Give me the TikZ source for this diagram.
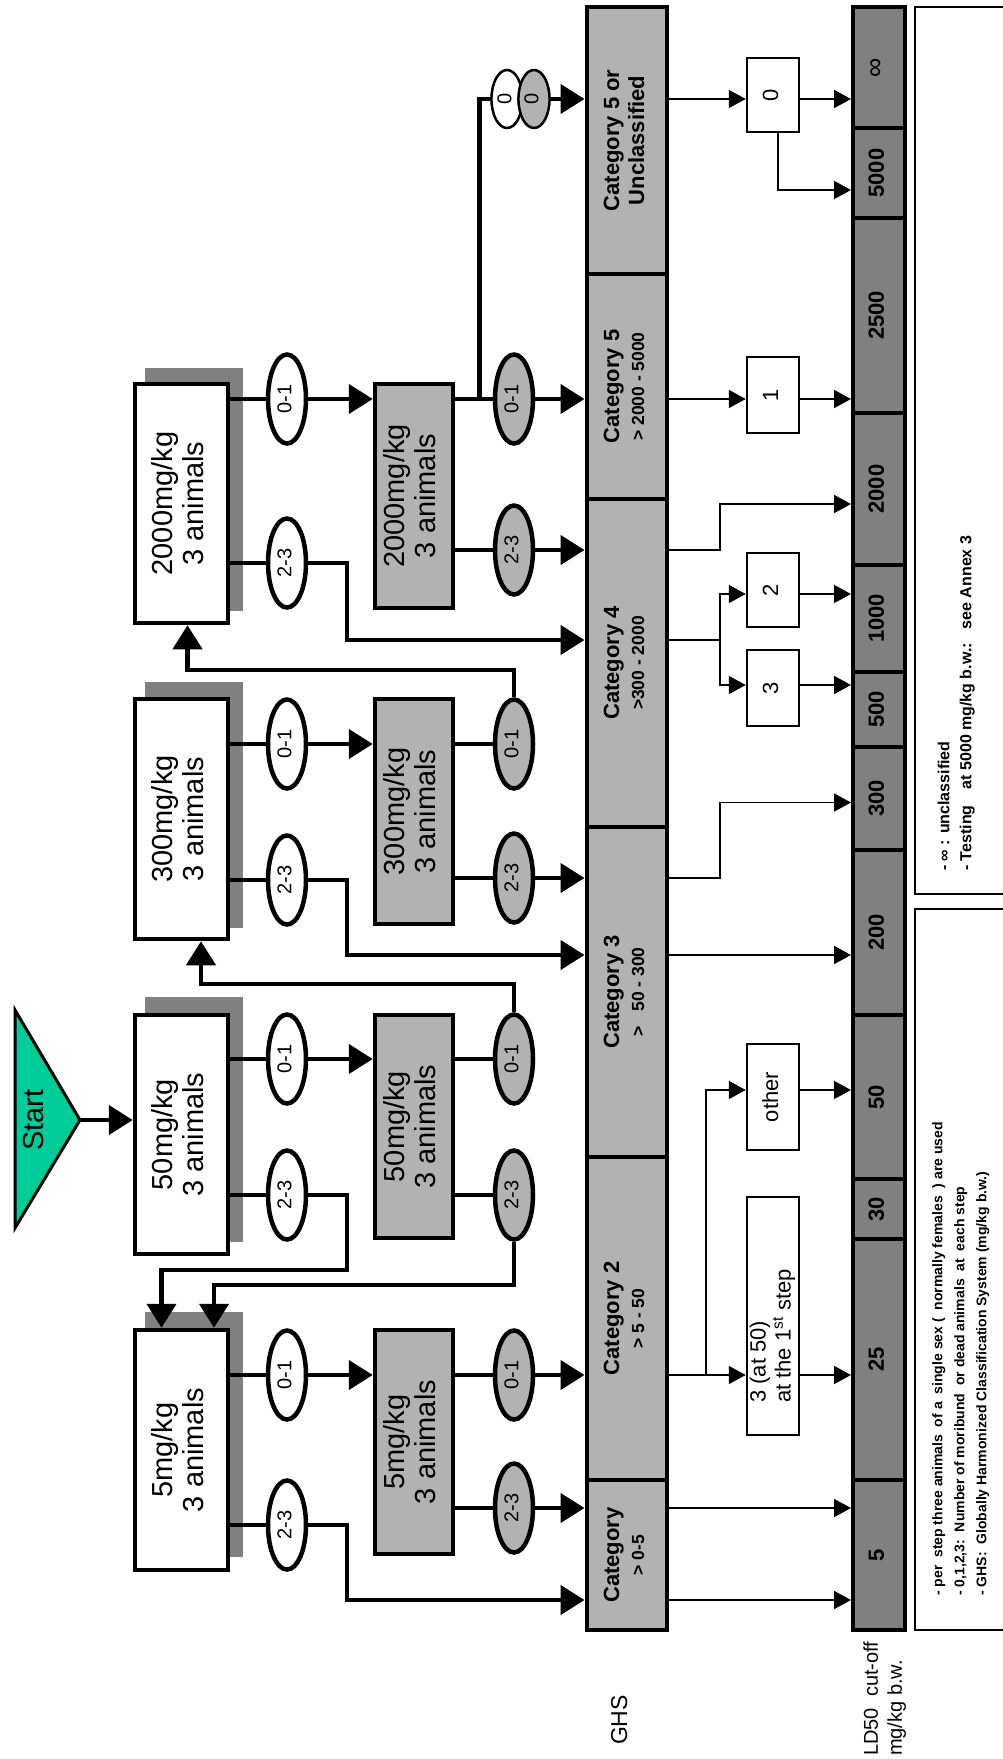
\documentclass[tikz,border=0pt]{standalone}
\usepackage{fontspec}
\setmainfont{Liberation Sans}
\usetikzlibrary{arrows.meta,shapes.geometric}

\definecolor{startgreen}{RGB}{0,204,153}

\newcommand{\up}[1]{\rotatebox{90}{\begin{tabular}{@{}c@{}}#1\end{tabular}}}
\newcommand{\upleft}[1]{\rotatebox{90}{\begin{tabular}{@{}l@{}}#1\end{tabular}}}

\tikzset{
  startshape/.style={draw, line width=3pt, fill=startgreen, line join=miter},
  dosebox/.style={draw, line width=4.5pt, fill=white, minimum width=93pt, inner sep=0pt, font=\fontsize{29}{31}\selectfont},
  dosegrey/.style={dosebox, fill=black!30, minimum width=78pt},
  dropbox/.style={fill=black!50, minimum width=98pt, inner sep=0pt},
  deadw/.style={draw, ellipse, line width=4.5pt, fill=white, minimum width=38pt, minimum height=89pt, inner sep=0pt, font=\fontsize{20}{22}\selectfont},
  deadg/.style={deadw, fill=black!30},
  zerow/.style={draw, ellipse, line width=2.5pt, fill=white, minimum width=24pt, minimum height=58pt, inner sep=0pt, font=\fontsize{20}{22}\selectfont},
  zerog/.style={zerow, fill=black!30},
  catbox/.style={draw, line width=4pt, fill=black!30, minimum width=80pt, inner sep=0pt, font=\bfseries\fontsize{22}{25}\selectfont},
  ldbox/.style={draw, line width=4pt, fill=black!50, minimum width=52pt, inner sep=0pt, font=\bfseries\fontsize{22}{24}\selectfont},
  numbox/.style={draw, line width=2.5pt, fill=white, minimum width=52pt, inner sep=0pt, font=\fontsize{22}{25}\selectfont},
  notetext/.style={inner sep=0pt, font=\bfseries\fontsize{14}{22}\selectfont},
  thickline/.style={line width=4.5pt},
  thickarrow/.style={line width=4.5pt, -{Triangle[length=24pt,width=29pt]}},
  thinline/.style={line width=1.8pt},
  thinarrow/.style={line width=1.8pt, -{Triangle[length=17pt,width=18pt]}},
}

\begin{document}
\begin{tikzpicture}[x=1pt,y=-1pt]
	\useasboundingbox (0,0) rectangle (1002,1759);

	% start
	\draw[startshape] (15,1010) -- (80,1120) -- (15,1228) -- cycle;
	\node[font=\fontsize{29}{31}\selectfont] (start) at (37,1120) {\up{Start}};
	\coordinate (starttip) at (80,1120);

	% first step, white boxes with drop shadow
	\node[dropbox, minimum height=243pt] (s2000) at (194,489.5) {};
	\node[dosebox, minimum height=239pt] (w2000) at (181.5,503.5) {\up{2000mg/kg\\3 animals}};
	\node[dropbox, minimum height=246pt] (s300) at (194,805) {};
	\node[dosebox, minimum height=240pt] (w300) at (181.5,819) {\up{300mg/kg\\3 animals}};
	\node[dropbox, minimum height=245pt] (s50) at (194,1119.5) {};
	\node[dosebox, minimum height=239pt] (w50) at (181.5,1134.5) {\up{50mg/kg\\3 animals}};
	\node[dropbox, minimum height=245pt] (s5) at (194,1434.5) {};
	\node[dosebox, minimum height=240pt] (w5) at (181.5,1450) {\up{5mg/kg\\3 animals}};

	% second step, grey boxes
	\node[dosegrey, minimum height=224pt] (g2000) at (414,496) {\up{2000mg/kg\\3 animals}};
	\node[dosegrey, minimum height=225pt] (g300) at (414,811.5) {\up{300mg/kg\\3 animals}};
	\node[dosegrey, minimum height=223pt] (g50) at (414,1126.5) {\up{50mg/kg\\3 animals}};
	\node[dosegrey, minimum height=224pt] (g5) at (414,1442) {\up{5mg/kg\\3 animals}};

	% dead animals after the first step
	\node[deadw] (e2000a) at (287,399) {\up{0-1}};
	\node[deadw] (e2000b) at (287,563) {\up{2-3}};
	\node[deadw] (e300a) at (287,744) {\up{0-1}};
	\node[deadw] (e300b) at (287,880) {\up{2-3}};
	\node[deadw] (e50a) at (287,1059) {\up{0-1}};
	\node[deadw] (e50b) at (287,1195) {\up{2-3}};
	\node[deadw] (e5a) at (287,1375) {\up{0-1}};
	\node[deadw] (e5b) at (287,1525) {\up{2-3}};

	% dead animals after the second step
	\node[deadg] (f2000a) at (514,399) {\up{0-1}};
	\node[deadg] (f2000b) at (514,550) {\up{2-3}};
	\node[deadg] (f300a) at (514,744) {\up{0-1}};
	\node[deadg] (f300b) at (514,878) {\up{2-3}};
	\node[deadg] (f50a) at (514,1059) {\up{0-1}};
	\node[deadg] (f50b) at (514,1195) {\up{2-3}};
	\node[deadg] (f5a) at (514,1375) {\up{0-1}};
	\node[deadg] (f5b) at (514,1508) {\up{2-3}};

	\node[zerow] (z1) at (507,99) {\up{0}};
	\node[zerog] (z2) at (534,99) {\up{0}};

	% GHS categories
	\node[catbox, minimum height=267pt] (c5u) at (626.5,140.5) {\up{Category 5 or\\Unclassified}};
	\node[catbox, minimum height=225pt] (c5) at (626.5,386.5) {\up{Category 5\\{\fontsize{17.5}{19}\selectfont > 2000 - 5000}}};
	\node[catbox, minimum height=328pt] (c4) at (626.5,663) {\up{Category 4\\{\fontsize{17.5}{19}\selectfont >300 - 2000}}};
	\node[catbox, minimum height=330pt] (c3) at (626.5,992) {\up{Category 3\\{\fontsize{17.5}{19}\selectfont >\ \ \ 50 - 300}}};
	\node[catbox, minimum height=323pt] (c2) at (626.5,1318.5) {\up{Category 2\\{\fontsize{17.5}{19}\selectfont > 5 - 50}}};
	\node[catbox, minimum height=150pt] (c1) at (626.5,1555) {\up{Category\\{\fontsize{17.5}{19}\selectfont > 0-5}}};

	% animals found dead
	\node[numbox, minimum height=74pt] (b0) at (773,95) {\up{0}};
	\node[numbox, minimum height=76pt] (b1) at (773,395) {\up{1}};
	\node[numbox, minimum height=74pt] (b2) at (773,590) {\up{2}};
	\node[numbox, minimum height=76pt] (b3) at (773,688) {\up{3}};
	\node[numbox, minimum height=106pt] (bother) at (773,1097) {\up{other}};
	\node[numbox, minimum height=238pt] (bfirst) at (773,1316) {\rotatebox{90}{\begin{tabular}{@{}l@{\hspace{40pt}}}3 (at 50)\\at the 1\textsuperscript{st} step\end{tabular}}};

	% LD50 cut-off
	\node[ldbox, minimum height=121pt] (dinf) at (879,67.5) {\up{\mdseries\fontsize{27}{28}\selectfont ∞}};
	\node[ldbox, minimum height=90pt] (d5000) at (879,173) {\up{5000}};
	\node[ldbox, minimum height=195pt] (d2500) at (879,315.5) {\up{2500}};
	\node[ldbox, minimum height=152pt] (d2000) at (879,489) {\up{2000}};
	\node[ldbox, minimum height=107pt] (d1000) at (879,618.5) {\up{1000}};
	\node[ldbox, minimum height=75pt] (d500) at (879,709.5) {\up{500}};
	\node[ldbox, minimum height=103pt] (d300) at (879,798.5) {\up{300}};
	\node[ldbox, minimum height=165pt] (d200) at (879,932.5) {\up{200}};
	\node[ldbox, minimum height=164pt] (d50) at (879,1097) {\up{50}};
	\node[ldbox, minimum height=60pt] (d30) at (879,1209) {\up{30}};
	\node[ldbox, minimum height=241pt] (d25) at (879,1359.5) {\up{25}};
	\node[ldbox, minimum height=150pt] (d5) at (879,1555) {\up{5}};

	% labels and notes
	\node[font=\fontsize{23}{25}\selectfont] (ghs) at (622,1720) {\up{GHS}};
	\node[anchor=south, inner sep=0pt, font=\fontsize{20}{24}\selectfont] (ldlabel) at (885,1756) {\upleft{LD50\ \ cut-off\\mg/kg b.w.}};
	\draw[line width=2pt] (915,7) rectangle (1012,894);
	\draw[line width=2pt] (915,909) rectangle (1012,1630);
	\node[notetext, font=\bfseries\fontsize{16}{22}\selectfont, anchor=south] (note1) at (956,871) {\upleft{- ∞ : unclassified\\- Testing\hspace{16pt}at 5000 mg/kg b.w.:\hspace{14pt}see Annex 3}};
	\node[notetext, anchor=south] (note2) at (960,1596) {\upleft{- per\ \ step three animals\ \ of a\ \ single sex (\ \ normally females\ \ ) are used\\- 0,1,2,3:\ \ Number of moribund\ \ or dead animals\ \ at\ \ each step\\- GHS:\ \ Globally Harmonized Classification System (mg/kg b.w.)}};

	% bends
	\coordinate (k2000) at (347,640);
	\coordinate (k300) at (347,955);
	\coordinate (k50) at (347,1270);
	\coordinate (k5) at (347,1600);
	\coordinate (v2000) at (479.5,399);
	\coordinate (u300) at (514,670);
	\coordinate (u50) at (514,984);
	\coordinate (u50b) at (514,1285);
	\coordinate (bend) at (720,0);
	\coordinate (bendtwo) at (706,0);

	\draw[thickarrow] (starttip) -- (w50.west |- starttip);

	% 2000 mg/kg
	\draw[thickline] (w2000.east |- e2000a) -- (e2000a);
	\draw[thickarrow] (e2000a) -- (g2000.west |- e2000a);
	\draw[thickline] (w2000.east |- e2000b) -- (e2000b);
	\draw[thickarrow] (e2000b) -| (k2000) -- (k2000 -| c4.west);
	\draw[thickline] (g2000.east |- f2000a) -- (f2000a);
	\draw[thickarrow] (f2000a) -- (c5.west |- f2000a);
	\draw[thickline] (v2000) |- (z1);
	\draw[thickarrow] (z2) -- (c5u.west |- z2);
	\draw[thickline] (g2000.east |- f2000b) -- (f2000b);
	\draw[thickarrow] (f2000b) -- (c4.west |- f2000b);

	% 300 mg/kg
	\draw[thickline] (w300.east |- e300a) -- (e300a);
	\draw[thickarrow] (e300a) -- (g300.west |- e300a);
	\draw[thickline] (w300.east |- e300b) -- (e300b);
	\draw[thickarrow] (e300b) -| (k300) -- (k300 -| c3.west);
	\draw[thickline] (g300.east |- f300a) -- (f300a);
	\draw[thickarrow] (f300a.north) -- (u300) -| ([xshift=6pt]w2000.south);
	\draw[thickline] (g300.east |- f300b) -- (f300b);
	\draw[thickarrow] (f300b) -- (c3.west |- f300b);

	% 50 mg/kg
	\draw[thickline] (w50.east |- e50a) -- (e50a);
	\draw[thickarrow] (e50a) -- (g50.west |- e50a);
	\draw[thickline] (w50.east |- e50b) -- (e50b);
	\draw[thickarrow] (e50b) -| (k50) -| ([xshift=-20pt]w5.north);
	\draw[thickline] (g50.east |- f50a) -- (f50a);
	\draw[thickarrow] (f50a.north) -- (u50) -| ([xshift=19.5pt]w300.south);
	\draw[thickline] (g50.east |- f50b) -- (f50b);
	\draw[thickarrow] (f50b.south) -- (u50b) -| ([xshift=32.5pt]w5.north);

	% 5 mg/kg
	\draw[thickline] (w5.east |- e5a) -- (e5a);
	\draw[thickarrow] (e5a) -- (g5.west |- e5a);
	\draw[thickline] (w5.east |- e5b) -- (e5b);
	\draw[thickarrow] (e5b) -| (k5) -- (k5 -| c1.west);
	\draw[thickline] (g5.east |- f5a) -- (f5a);
	\draw[thickarrow] (f5a) -- (c2.west |- f5a);
	\draw[thickline] (g5.east |- f5b) -- (f5b);
	\draw[thickarrow] (f5b) -- (c1.west |- f5b);

	% categories to LD50 cut-off
	\draw[thinarrow] (c5u.east |- z2) -- (b0.west |- z2);
	\draw[thinarrow] (b0.east |- z2) -- (dinf.west |- z2);
	\draw[thinarrow] ([xshift=5pt]b0.south) |- ([yshift=-17pt]d5000.west);
	\draw[thinarrow] (c5.east |- f2000a) -- (b1.west |- f2000a);
	\draw[thinarrow] (b1.east |- f2000a) -- (d2500.west |- f2000a);
	\draw[thinarrow] (c4.east |- f2000b) -| ([yshift=-15pt]bend |- d2000.west) -- ([yshift=-15pt]d2000.west);
	\draw[thinline] (c4.east |- k2000) -- (bend |- k2000);
	\draw[thinarrow] (bend |- k2000) |- ([yshift=-4pt]b2.west);
	\draw[thinarrow] (bend |- k2000) |- ([yshift=3pt]b3.west);
	\draw[thinarrow] ([yshift=-4pt]b2.east) -- ([yshift=-4pt]d1000.west |- b2);
	\draw[thinarrow] ([yshift=3pt]b3.east) -- ([yshift=3pt]d500.west |- b3);
	\draw[thinarrow] (c3.east |- f300b) -| ([yshift=-4pt]bend |- d300.west) -- ([yshift=-4pt]d300.west);
	\draw[thinarrow] (c3.east |- k300) -- (d200.west |- k300);
	\draw[thinarrow] (c2.east |- f5a) -- (bfirst.west |- f5a);
	\draw[thinarrow] (bendtwo |- f5a) |- ([yshift=7pt]bother.west);
	\draw[thinarrow] ([yshift=7pt]bother.east) -- ([yshift=7pt]d50.west |- bother);
	\draw[thinarrow] (bfirst.east |- f5a) -- (d25.west |- f5a);
	\draw[thinarrow] (c1.east |- f5b) -- (d5.west |- f5b);
	\draw[thinarrow] (c1.east |- k5) -- (d5.west |- k5);

\end{tikzpicture}
\end{document}
